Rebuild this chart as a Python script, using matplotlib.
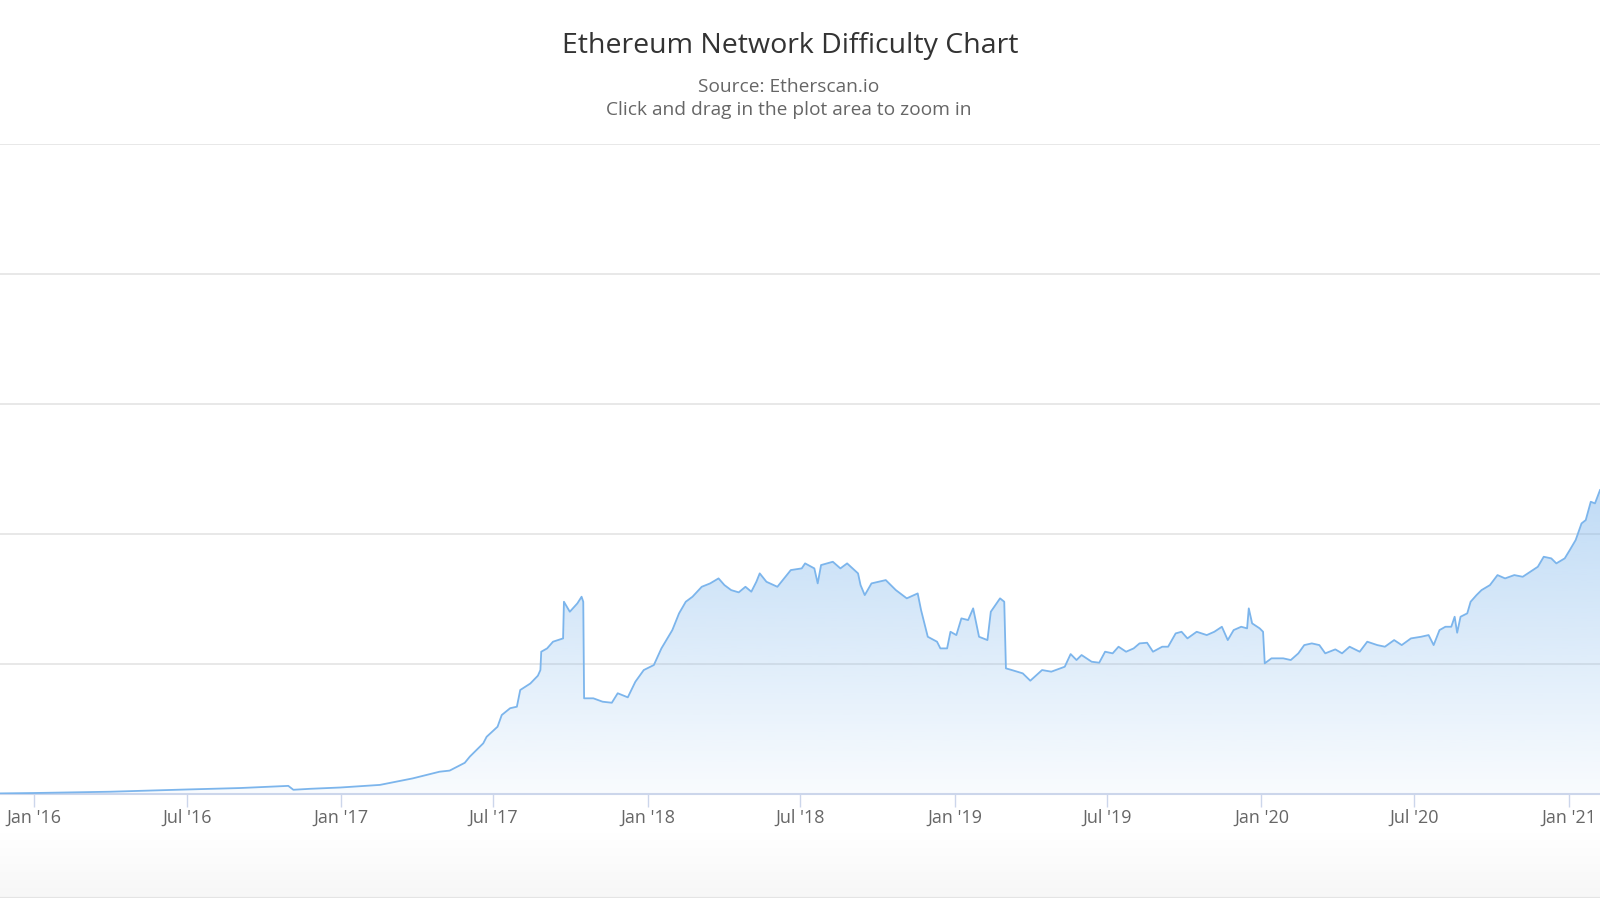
import matplotlib
matplotlib.use("Agg")
import matplotlib.pyplot as plt
import matplotlib.dates as mdates
import numpy as np
import pandas as pd
from matplotlib.colors import to_rgb
from matplotlib.patches import Polygon

plt.rcParams['font.family'] = ['Open Sans', 'DejaVu Sans']

# --- data, difficulty in TH ---
dates = [
    "2015-11-22", "2016-01-01", "2016-04-01", "2016-06-27", "2016-09-03", "2016-10-24",
    "2016-10-30", "2016-11-05", "2016-11-25", "2016-12-31", "2017-02-16", "2017-03-27",
    "2017-04-28", "2017-05-10", "2017-05-28", "2017-06-03", "2017-06-19", "2017-06-23",
    "2017-07-06", "2017-07-11", "2017-07-21", "2017-07-29", "2017-08-02", "2017-08-14",
    "2017-08-23", "2017-08-26", "2017-08-27", "2017-09-03", "2017-09-10", "2017-09-22",
    "2017-09-23", "2017-09-30", "2017-10-09", "2017-10-14", "2017-10-16", "2017-10-17",
    "2017-10-28", "2017-11-08", "2017-11-19", "2017-11-26", "2017-12-08", "2017-12-17",
    "2017-12-27", "2018-01-08", "2018-01-17", "2018-01-30", "2018-02-07", "2018-02-15",
    "2018-02-23", "2018-03-06", "2018-03-16", "2018-03-26", "2018-04-02", "2018-04-10",
    "2018-04-19", "2018-04-27", "2018-05-04", "2018-05-10", "2018-05-14", "2018-05-22",
    "2018-06-04", "2018-06-12", "2018-06-20", "2018-07-03", "2018-07-07", "2018-07-18",
    "2018-07-22", "2018-07-26", "2018-08-09", "2018-08-18", "2018-08-26", "2018-09-08",
    "2018-09-11", "2018-09-16", "2018-09-24", "2018-10-11", "2018-10-23", "2018-11-05",
    "2018-11-18", "2018-11-22", "2018-11-30", "2018-12-11", "2018-12-15", "2018-12-23",
    "2018-12-27", "2019-01-03", "2019-01-09", "2019-01-17", "2019-01-23", "2019-01-30",
    "2019-02-09", "2019-02-13", "2019-02-24", "2019-03-01", "2019-03-03", "2019-03-10",
    "2019-03-23", "2019-04-01", "2019-04-15", "2019-04-26", "2019-05-12", "2019-05-19",
    "2019-05-26", "2019-06-01", "2019-06-13", "2019-06-22", "2019-06-29", "2019-07-08",
    "2019-07-15", "2019-07-24", "2019-08-02", "2019-08-09", "2019-08-18", "2019-08-25",
    "2019-09-05", "2019-09-12", "2019-09-21", "2019-09-28", "2019-10-05", "2019-10-16",
    "2019-10-28", "2019-11-06", "2019-11-15", "2019-11-22", "2019-11-29", "2019-12-08",
    "2019-12-15", "2019-12-17", "2019-12-21", "2019-12-30", "2020-01-03", "2020-01-05",
    "2020-01-13", "2020-01-27", "2020-02-05", "2020-02-14", "2020-02-21", "2020-03-01",
    "2020-03-10", "2020-03-17", "2020-03-29", "2020-04-06", "2020-04-15", "2020-04-27",
    "2020-05-06", "2020-05-18", "2020-05-27", "2020-06-07", "2020-06-16", "2020-06-27",
    "2020-07-09", "2020-07-18", "2020-07-24", "2020-07-31", "2020-08-07", "2020-08-14",
    "2020-08-18", "2020-08-21", "2020-08-25", "2020-09-02", "2020-09-06", "2020-09-13",
    "2020-09-19", "2020-09-29", "2020-10-08", "2020-10-17", "2020-10-28", "2020-11-07",
    "2020-11-16", "2020-11-25", "2020-12-02", "2020-12-11", "2020-12-17", "2020-12-27",
    "2021-01-02", "2021-01-09", "2021-01-16", "2021-01-21", "2021-01-27", "2021-02-01",
    "2021-02-07",
]
difficulty_th = [
    9, 15, 35, 68, 92, 120,
    125, 65, 80, 100, 140, 240,
    343, 360, 480, 575, 780, 880,
    1035, 1215, 1320, 1343, 1600, 1700,
    1820, 1907, 2189, 2240, 2343, 2394,
    2958, 2804, 2933, 3035, 2958, 1472,
    1472, 1420, 1404, 1550, 1487, 1727,
    1907, 1984, 2240, 2522, 2779, 2958,
    3035, 3188, 3240, 3317, 3214, 3137,
    3102, 3188, 3112, 3265, 3394, 3265,
    3188, 3317, 3445, 3471, 3548, 3471,
    3240, 3522, 3573, 3471, 3548, 3394,
    3214, 3060, 3240, 3291, 3137, 3010,
    3086, 2830, 2419, 2343, 2240, 2240,
    2496, 2445, 2702, 2676, 2856, 2419,
    2368, 2804, 3010, 2958, 1933, 1907,
    1856, 1743, 1907, 1882, 1958, 2153,
    2061, 2138, 2035, 2020, 2189, 2164,
    2266, 2189, 2240, 2317, 2327, 2189,
    2266, 2266, 2471, 2496, 2394, 2496,
    2445, 2496, 2573, 2368, 2522, 2573,
    2548, 2856, 2625, 2548, 2496, 2010,
    2087, 2087, 2061, 2164, 2291, 2317,
    2291, 2164, 2225, 2164, 2266, 2189,
    2343, 2291, 2266, 2368, 2291, 2394,
    2419, 2445, 2291, 2522, 2573, 2573,
    2727, 2481, 2727, 2779, 2958, 3060,
    3137, 3214, 3368, 3317, 3368, 3342,
    3419, 3496, 3650, 3625, 3548, 3625,
    3753, 3907, 4163, 4214, 4496, 4471,
    4676,
]
y_gridlines = [2000, 4000, 6000, 8000, 10000]

title = "Ethereum Network Difficulty Chart"
subtitle_lines = ["Source: Etherscan.io", "Click and drag in the plot area to zoom in"]

x = mdates.date2num(pd.to_datetime(dates))
y = np.array(difficulty_th, dtype=float)

W, H = 1600, 900
fig = plt.figure(figsize=(16, 9), dpi=100)
fig.patch.set_facecolor("white")

top_px, bottom_px = 144, 794
ax = fig.add_axes([0, 1 - bottom_px / H, 1, (bottom_px - top_px) / H])
ax.set_facecolor("white")

# gradient fill under the line, clipped to the area polygon
blue = '#7cb5ec'
grad = np.zeros((256, 1, 4))
grad[..., :3] = to_rgb(blue)
grad[:, 0, 3] = np.linspace(0.05, 0.48, 256)
im = ax.imshow(grad, extent=[x[0], x[-1], 0, y.max()], origin='lower',
               aspect='auto', interpolation='bilinear', zorder=1)
verts = [(x[0], 0)] + list(zip(x, y)) + [(x[-1], 0)]
clip = Polygon(verts, closed=True, facecolor='none', edgecolor='none',
               transform=ax.transData)
ax.add_patch(clip)
im.set_clip_path(clip)

ax.plot(x, y, color=blue, lw=1.3, zorder=3, solid_joinstyle='round')

jan16 = mdates.date2num(pd.Timestamp("2016-01-01"))
px_per_day = 0.8403
ax.set_xlim(jan16 - 33.7 / px_per_day, jan16 + (W - 33.7) / px_per_day)
ax.set_ylim(0, 10000)

ax.set_yticks(y_gridlines)
ax.yaxis.grid(True, color='#e6e6e6', lw=1.3)
ax.set_axisbelow(True)
ax.tick_params(axis='y', left=False, labelleft=False)

for s in ['top', 'left', 'right']:
    ax.spines[s].set_visible(False)
ax.spines['bottom'].set_color('#ccd6eb')
ax.spines['bottom'].set_linewidth(1.5)

ax.xaxis.set_major_locator(mdates.MonthLocator(bymonth=(1, 7)))
ax.xaxis.set_major_formatter(mdates.DateFormatter("%b '%y"))
ax.tick_params(axis='x', length=9, width=1, color='#ccd6eb', labelsize=13,
               labelcolor='#666666', pad=1.5)

# light band at the bottom
band = fig.add_axes([0, 2 / H, 1, 66 / H])
band_grad = np.linspace(1.0, 0.968, 64).reshape(-1, 1)
band.imshow(np.repeat(band_grad[:, :, None], 3, axis=2), aspect='auto',
            extent=[0, 1, 0, 1], interpolation='bilinear')
band.axhline(0, color='#e4e4e4', lw=1.5)
band.set_xlim(0, 1)
band.set_ylim(0, 1)
band.axis('off')

fig.text(790 / W, 1 - 46.5 / H, title, ha='center', va='center', fontsize=20.5, color='#333333')
fig.text(789 / W, 1 - 86.5 / H, subtitle_lines[0], ha='center', va='center',
         fontsize=13.8, color='#666666')
fig.text(789 / W, 1 - 110 / H, subtitle_lines[1], ha='center', va='center',
         fontsize=13.8, color='#666666')

fig.savefig("out.png", dpi=100)
